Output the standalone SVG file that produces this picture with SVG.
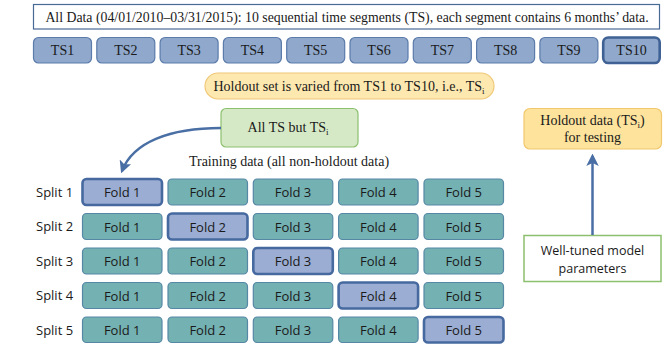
<svg xmlns="http://www.w3.org/2000/svg" width="670" height="345" viewBox="0 0 670 345">
<defs>
<style>
.serif{font-family:"Liberation Serif","DejaVu Serif",serif;fill:#1a1a1a}
.sans{font-family:"Open Sans","Liberation Sans",sans-serif;fill:#1a1a1a}
.ts{fill:#8fa8cc;stroke:#5b7bab;stroke-width:1.2}
.ts-hl{fill:#8fa8cc;stroke:#3f6194;stroke-width:2.6}
.fold{fill:#74b1b2;stroke:#5688a6;stroke-width:1.2}
.fold-hl{fill:#9badd2;stroke:#4669a0;stroke-width:2.6}
.conn{fill:none;stroke:#4a6fa5;stroke-width:2.5}
</style>
<marker id="ah" viewBox="0 0 10 10" refX="8" refY="5" markerWidth="5" markerHeight="5" orient="auto" markerUnits="strokeWidth">
<path d="M0,0 L10,5 L0,10 L2.5,5 Z" fill="#4a6fa5"/>
</marker>
</defs>
<rect width="670" height="345" fill="#ffffff"/>

<g id="all-data">
<rect x="33.5" y="4.5" width="626" height="24.5" fill="#ffffff" stroke="#4a6a96" stroke-width="1.2"/>
<text class="serif" x="347" y="22" font-size="13.8" text-anchor="middle">All Data (04/01/2010–03/31/2015): 10 sequential time segments (TS), each segment contains 6 months’ data.</text>
</g>

<g id="ts-row" class="serif" font-size="14" text-anchor="middle">
<g id="ts1"><rect class="ts" x="33.5" y="37.5" width="58" height="25.5" rx="5"/><text x="62.5" y="55">TS1</text></g>
<g id="ts2"><rect class="ts" x="96.8" y="37.5" width="58" height="25.5" rx="5"/><text x="125.8" y="55">TS2</text></g>
<g id="ts3"><rect class="ts" x="160.1" y="37.5" width="58" height="25.5" rx="5"/><text x="189.1" y="55">TS3</text></g>
<g id="ts4"><rect class="ts" x="223.4" y="37.5" width="58" height="25.5" rx="5"/><text x="252.4" y="55">TS4</text></g>
<g id="ts5"><rect class="ts" x="286.7" y="37.5" width="58" height="25.5" rx="5"/><text x="315.7" y="55">TS5</text></g>
<g id="ts6"><rect class="ts" x="350" y="37.5" width="58" height="25.5" rx="5"/><text x="379" y="55">TS6</text></g>
<g id="ts7"><rect class="ts" x="413.3" y="37.5" width="58" height="25.5" rx="5"/><text x="442.3" y="55">TS7</text></g>
<g id="ts8"><rect class="ts" x="476.6" y="37.5" width="58" height="25.5" rx="5"/><text x="505.6" y="55">TS8</text></g>
<g id="ts9"><rect class="ts" x="539.9" y="37.5" width="58" height="25.5" rx="5"/><text x="568.9" y="55">TS9</text></g>
<g id="ts10"><rect class="ts-hl" x="603.2" y="37.5" width="56.5" height="25.5" rx="5"/><text x="631.5" y="55">TS10</text></g>
</g>

<g id="holdout-varied">
<rect x="205" y="73" width="289" height="26" rx="13" fill="#fde8b0" stroke="#f0c878" stroke-width="1.2"/>
<text class="serif" x="349" y="90.5" font-size="14" text-anchor="middle">Holdout set is varied from TS1 to TS10, i.e., TS<tspan font-size="9" dy="3">i</tspan></text>
</g>

<g id="all-ts-but">
<rect x="221" y="108.5" width="137" height="38.5" rx="5" fill="#d6e9c6" stroke="#8cc06e" stroke-width="1.2"/>
<text class="serif" x="288" y="132" font-size="14" text-anchor="middle">All TS but TS<tspan font-size="9" dy="3">i</tspan></text>
</g>

<g id="training-label">
<text class="serif" x="289" y="166" font-size="14" text-anchor="middle">Training data (all non-holdout data)</text>
</g>

<g id="holdout-data">
<rect x="524" y="108.5" width="137.5" height="40.5" rx="6" fill="#fde39c" stroke="#f2c86e" stroke-width="1.2"/>
<text class="serif" x="592.5" y="125" font-size="14" text-anchor="middle">Holdout data (TS<tspan font-size="9" dy="3">i</tspan><tspan dy="-3">)</tspan></text>
<text class="serif" x="592.5" y="142" font-size="14" text-anchor="middle">for testing</text>
</g>

<g id="well-tuned">
<rect x="524" y="235.5" width="137" height="46" fill="#ffffff" stroke="#8cc06e" stroke-width="1.5"/>
<text class="sans" x="592.5" y="255" font-size="12.5" text-anchor="middle">Well-tuned model</text>
<text class="sans" x="592.5" y="273" font-size="12.5" text-anchor="middle">parameters</text>
</g>

<g id="split-labels" class="sans" font-size="13">
<text x="36" y="197">Split 1</text>
<text x="36" y="231">Split 2</text>
<text x="36" y="266">Split 3</text>
<text x="36" y="300">Split 4</text>
<text x="36" y="335">Split 5</text>
</g>

<g id="folds" class="sans" font-size="13" text-anchor="middle">
<g id="split1">
<rect class="fold-hl" x="82.5" y="179" width="79.5" height="26" rx="4"/><text x="122.2" y="197">Fold 1</text>
<rect class="fold" x="168" y="179" width="79.5" height="26" rx="4"/><text x="207.7" y="197">Fold 2</text>
<rect class="fold" x="253.3" y="179" width="79.5" height="26" rx="4"/><text x="293" y="197">Fold 3</text>
<rect class="fold" x="338.6" y="179" width="79.5" height="26" rx="4"/><text x="378.3" y="197">Fold 4</text>
<rect class="fold" x="424" y="179" width="79.5" height="26" rx="4"/><text x="463.7" y="197">Fold 5</text>
</g>
<g id="split2">
<rect class="fold" x="82.5" y="213.5" width="79.5" height="26" rx="4"/><text x="122.2" y="231.5">Fold 1</text>
<rect class="fold-hl" x="168" y="213.5" width="79.5" height="26" rx="4"/><text x="207.7" y="231.5">Fold 2</text>
<rect class="fold" x="253.3" y="213.5" width="79.5" height="26" rx="4"/><text x="293" y="231.5">Fold 3</text>
<rect class="fold" x="338.6" y="213.5" width="79.5" height="26" rx="4"/><text x="378.3" y="231.5">Fold 4</text>
<rect class="fold" x="424" y="213.5" width="79.5" height="26" rx="4"/><text x="463.7" y="231.5">Fold 5</text>
</g>
<g id="split3">
<rect class="fold" x="82.5" y="248" width="79.5" height="26" rx="4"/><text x="122.2" y="266">Fold 1</text>
<rect class="fold" x="168" y="248" width="79.5" height="26" rx="4"/><text x="207.7" y="266">Fold 2</text>
<rect class="fold-hl" x="253.3" y="248" width="79.5" height="26" rx="4"/><text x="293" y="266">Fold 3</text>
<rect class="fold" x="338.6" y="248" width="79.5" height="26" rx="4"/><text x="378.3" y="266">Fold 4</text>
<rect class="fold" x="424" y="248" width="79.5" height="26" rx="4"/><text x="463.7" y="266">Fold 5</text>
</g>
<g id="split4">
<rect class="fold" x="82.5" y="282.5" width="79.5" height="26" rx="4"/><text x="122.2" y="300.5">Fold 1</text>
<rect class="fold" x="168" y="282.5" width="79.5" height="26" rx="4"/><text x="207.7" y="300.5">Fold 2</text>
<rect class="fold" x="253.3" y="282.5" width="79.5" height="26" rx="4"/><text x="293" y="300.5">Fold 3</text>
<rect class="fold-hl" x="338.6" y="282.5" width="79.5" height="26" rx="4"/><text x="378.3" y="300.5">Fold 4</text>
<rect class="fold" x="424" y="282.5" width="79.5" height="26" rx="4"/><text x="463.7" y="300.5">Fold 5</text>
</g>
<g id="split5">
<rect class="fold" x="82.5" y="317" width="79.5" height="25.5" rx="4"/><text x="122.2" y="335">Fold 1</text>
<rect class="fold" x="168" y="317" width="79.5" height="25.5" rx="4"/><text x="207.7" y="335">Fold 2</text>
<rect class="fold" x="253.3" y="317" width="79.5" height="25.5" rx="4"/><text x="293" y="335">Fold 3</text>
<rect class="fold" x="338.6" y="317" width="79.5" height="25.5" rx="4"/><text x="378.3" y="335">Fold 4</text>
<rect class="fold-hl" x="424" y="317" width="79.5" height="25.5" rx="4"/><text x="463.7" y="335">Fold 5</text>
</g>
</g>

<g id="connectors">
<path class="conn" d="M221,128 C170,128 133,142 122,171" marker-end="url(#ah)"/>
<path class="conn" d="M592.5,235 L592.5,156" marker-end="url(#ah)"/>
</g>
</svg>
